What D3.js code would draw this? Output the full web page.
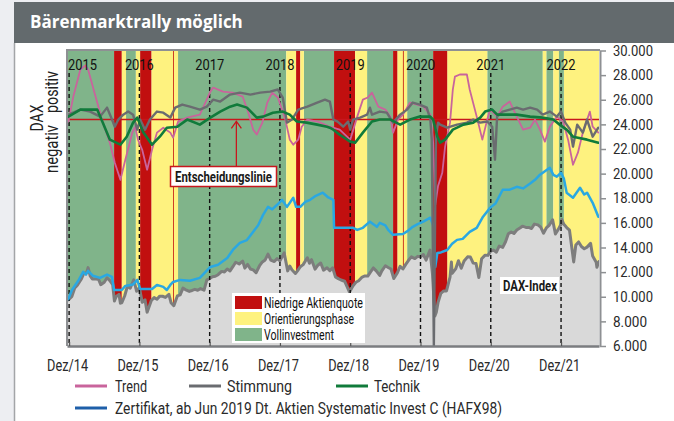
<!DOCTYPE html>
<html lang="de">
<head>
  <meta charset="UTF-8">
  <title>Bärenmarktrally möglich</title>
  <style>
    body {
      margin: 0;
      padding: 0;
      background-color: #edeef2;
    }
    svg { display: block; }
    text {
      font-family: Roboto, "Liberation Sans", sans-serif;
      fill: #1a1a1a;
    }
    .title {
      font-family: "Open Sans", "Liberation Sans", sans-serif;
      font-weight: 700;
      font-size: 17px;
      fill: #ffffff;
    }
    .axis text { fill: #2a2a2a; }
    .year-label { font-size: 14.5px; fill: #111; }
    .side-label { font-size: 18px; fill: #222; }
    .legend text { font-size: 17px; fill: #2a2a2a; }
    .box-legend text { font-size: 14px; fill: #111; }
    .line { fill: none; stroke-linejoin: round; stroke-linecap: round; }
  </style>
</head>
<body>
  <script src="https://d3js.org/d3.v7.min.js"></script>
  <script>
    // ---- data (time as decimal years) ----
    const years = [2015, 2016, 2017, 2018, 2019, 2020, 2021, 2022];
    const yearLabels = ["2015", "2016", "2017", "2018", "2019", "2020", "2021", "2022"];
    const tickLabels = ["Dez/14", "Dez/15", "Dez/16", "Dez/17", "Dez/18", "Dez/19", "Dez/20", "Dez/21"];
    const yTicks = [6000, 8000, 10000, 12000, 14000, 16000, 18000, 20000, 22000, 24000, 26000, 28000, 30000];
    const decisionLevel = 24400;

    // phases: r = Niedrige Aktienquote, y = Orientierungsphase, g = Vollinvestment
    const bandStart = [2014.97, 2015.64, 2015.75, 2015.81, 2015.95, 2016.01, 2016.17, 2016.48, 2016.55, 2018.09, 2018.23, 2018.29, 2018.34, 2018.77, 2019.07, 2019.24, 2019.61, 2019.67, 2019.75, 2019.81, 2020.18, 2020.38, 2020.95, 2021.74, 2021.79, 2021.89, 2021.97, 2022.04];
    const bandEnd   = [2015.64, 2015.75, 2015.81, 2015.95, 2016.01, 2016.17, 2016.55, 2016.49, 2018.09, 2018.23, 2018.29, 2018.34, 2018.77, 2019.07, 2019.24, 2019.61, 2019.67, 2019.81, 2019.76, 2020.18, 2020.38, 2020.95, 2021.74, 2021.79, 2021.89, 2021.97, 2022.04, 2022.54];
    const bandKind  = ["g", "r", "y", "g", "y", "r", "y", "r", "g", "y", "r", "y", "g", "r", "y", "g", "r", "y", "r", "g", "r", "y", "g", "y", "g", "y", "g", "y"];

    const daxT = [2014.97, 2015.00, 2015.04, 2015.08, 2015.12, 2015.17, 2015.21, 2015.25, 2015.27, 2015.30, 2015.33, 2015.37, 2015.42, 2015.45, 2015.50, 2015.54, 2015.58, 2015.62, 2015.645, 2015.67, 2015.71, 2015.73, 2015.75, 2015.79, 2015.83, 2015.87, 2015.92, 2015.96,
      2016.00, 2016.04, 2016.08, 2016.11, 2016.17, 2016.21, 2016.25, 2016.29, 2016.33, 2016.37, 2016.42, 2016.45, 2016.49, 2016.54, 2016.58, 2016.62, 2016.67, 2016.71, 2016.75, 2016.79, 2016.83, 2016.87, 2016.92, 2016.96,
      2017.00, 2017.04, 2017.08, 2017.12, 2017.17, 2017.21, 2017.25, 2017.29, 2017.33, 2017.37, 2017.42, 2017.47, 2017.50, 2017.54, 2017.58, 2017.62, 2017.66, 2017.71, 2017.75, 2017.79, 2017.83, 2017.87, 2017.92, 2017.96,
      2018.00, 2018.06, 2018.11, 2018.14, 2018.17, 2018.22, 2018.25, 2018.29, 2018.33, 2018.39, 2018.42, 2018.45, 2018.50, 2018.54, 2018.58, 2018.62, 2018.67, 2018.71, 2018.75, 2018.79, 2018.83, 2018.87, 2018.92, 2018.99,
      2019.04, 2019.08, 2019.12, 2019.17, 2019.21, 2019.25, 2019.29, 2019.33, 2019.37, 2019.42, 2019.45, 2019.50, 2019.54, 2019.58, 2019.62, 2019.67, 2019.71, 2019.75, 2019.79, 2019.83, 2019.87, 2019.92, 2019.96,
      2020.00, 2020.04, 2020.08, 2020.135, 2020.17, 2020.205, 2020.225, 2020.25, 2020.29, 2020.33, 2020.37, 2020.42, 2020.44, 2020.45, 2020.50, 2020.54, 2020.58, 2020.62, 2020.67, 2020.71, 2020.75, 2020.79, 2020.83, 2020.87, 2020.92, 2020.96,
      2021.00, 2021.04, 2021.08, 2021.12, 2021.17, 2021.21, 2021.25, 2021.29, 2021.33, 2021.37, 2021.42, 2021.45, 2021.50, 2021.54, 2021.58, 2021.62, 2021.67, 2021.71, 2021.75, 2021.79, 2021.83, 2021.88, 2021.92, 2021.96,
      2022.00, 2022.01, 2022.04, 2022.08, 2022.12, 2022.18, 2022.21, 2022.25, 2022.29, 2022.33, 2022.37, 2022.42, 2022.45, 2022.50, 2022.51, 2022.54];
    const daxV = [9700, 9800, 10030, 10700, 10960, 11400, 11900, 11970, 12370, 11700, 11450, 11450, 11400, 10980, 11180, 11540, 11300, 10980, 9650, 10020, 10190, 9480, 9510, 10060, 10850, 10700, 11380, 10450,
      10740, 9550, 9750, 8750, 9700, 9930, 9800, 10050, 10040, 9950, 10200, 9520, 9270, 10070, 10150, 10700, 10530, 10430, 10510, 10600, 10530, 10660, 10530, 11370,
      11480, 11630, 11660, 11790, 12060, 12010, 12250, 12100, 12440, 12800, 12660, 12890, 12320, 12630, 12250, 12180, 11950, 12520, 12830, 12990, 13460, 12980, 12860, 13100,
      12920, 13560, 12100, 12490, 12190, 11890, 12100, 12440, 12610, 13170, 12720, 13010, 12240, 12560, 12740, 12160, 12350, 12120, 12350, 11610, 11470, 11360, 11260, 10380,
      10890, 11180, 11300, 11600, 11690, 11680, 12020, 12340, 12100, 11730, 12100, 12520, 12380, 12250, 11480, 11940, 12470, 12260, 12630, 12960, 13240, 13100, 13280,
      13250, 13430, 12980, 13790, 11890, 8440, 8740, 9540, 10280, 10470, 10470, 11590, 12820, 11900, 12260, 12930, 12310, 12900, 13240, 13220, 12730, 12700, 11560, 13080, 13380, 13360,
      13720, 13790, 13620, 14110, 14010, 14470, 15110, 15250, 15140, 15420, 15600, 15730, 15630, 15630, 15540, 15900, 15840, 15650, 15160, 15590, 15800, 16250, 15100, 15470,
      15880, 16270, 15880, 15620, 15410, 12830, 14200, 14450, 14080, 13900, 14030, 14340, 13300, 12810, 12400, 12860];

    const zertT = [2014.99, 2015.04, 2015.13, 2015.20, 2015.24, 2015.27, 2015.34, 2015.44, 2015.54, 2015.61, 2015.64, 2015.75, 2015.80, 2015.91, 2015.97, 2016.01, 2016.18, 2016.25, 2016.34, 2016.39, 2016.44, 2016.48, 2016.58, 2016.72, 2016.86,
      2017.01, 2017.12, 2017.25, 2017.33, 2017.43, 2017.53, 2017.62, 2017.69, 2017.76, 2017.83, 2017.89, 2017.96, 2018.03, 2018.10, 2018.19, 2018.23, 2018.29, 2018.36, 2018.43, 2018.51, 2018.61, 2018.68, 2018.76, 2018.77,
      2019.04, 2019.10, 2019.18, 2019.28, 2019.38, 2019.42, 2019.50, 2019.54, 2019.61, 2019.75, 2019.82, 2019.89, 2019.96, 2020.04, 2020.14, 2020.18, 2020.21, 2020.24, 2020.29, 2020.38, 2020.45, 2020.52, 2020.60, 2020.70, 2020.80, 2020.89, 2020.99,
      2021.07, 2021.17, 2021.27, 2021.37, 2021.46, 2021.56, 2021.63, 2021.70, 2021.77, 2021.84, 2021.89, 2021.94, 2022.00, 2022.04, 2022.08, 2022.17, 2022.27, 2022.33, 2022.37, 2022.45, 2022.53];
    const zertV = [9820, 10550, 11300, 12020, 11800, 12100, 11700, 11530, 11800, 11610, 10550, 10550, 10880, 11000, 11370, 10630, 10630, 10960, 10800, 10550, 10960, 11200, 11370, 11300, 11530,
      12420, 12600, 13150, 13800, 14380, 14600, 15270, 15800, 16650, 17300, 17100, 17470, 17870, 17300, 18040, 17300, 17300, 17700, 17870, 18200, 18450, 18100, 17870, 15600,
      15600, 15430, 15600, 16100, 15680, 16000, 15800, 15430, 15030, 15100, 15350, 15680, 15900, 16100, 16420, 15800, 12420, 13560, 13600, 13800, 14300, 14620, 14700, 15270, 15600, 16500, 17220,
      17600, 18690, 18700, 18930, 18800, 19200, 19500, 19910, 20200, 20480, 19900, 19750, 20070, 19600, 18450, 18040, 18850, 18300, 18450, 17630, 16500];

    // indicator lines, drawn on the same vertical scale
    const trendT = [2014.99, 2015.06, 2015.16, 2015.23, 2015.27, 2015.40, 2015.48, 2015.58, 2015.65, 2015.73, 2015.80, 2015.90, 2015.94, 2015.98, 2016.04, 2016.11, 2016.18, 2016.25, 2016.34, 2016.44, 2016.48, 2016.55, 2016.68, 2016.86,
      2017.01, 2017.05, 2017.19, 2017.33, 2017.47, 2017.55, 2017.62, 2017.67, 2017.75, 2017.82, 2017.89, 2017.97, 2018.07, 2018.14, 2018.19, 2018.26, 2018.31, 2018.39, 2018.55, 2018.71, 2018.85,
      2019.00, 2019.10, 2019.18, 2019.25, 2019.31, 2019.40, 2019.50, 2019.57, 2019.61, 2019.68, 2019.75, 2019.85, 2019.95, 2020.04, 2020.14, 2020.18, 2020.21, 2020.25, 2020.31, 2020.35, 2020.42, 2020.46, 2020.49, 2020.56, 2020.66, 2020.70, 2020.80, 2020.88, 2020.95, 2020.99,
      2021.09, 2021.17, 2021.27, 2021.37, 2021.46, 2021.56, 2021.63, 2021.70, 2021.77, 2021.84, 2021.94, 2022.03, 2022.10, 2022.17, 2022.24, 2022.31, 2022.41, 2022.45, 2022.53];
    const trendV = [24220, 26260, 28450, 28780, 28450, 25770, 24140, 22510, 20890, 19500, 21130, 23330, 23800, 22760, 21940, 20320, 21940, 23330, 23730, 23330, 22920, 24220, 24550, 24790,
      26660, 26990, 26660, 26580, 26260, 24950, 23570, 23170, 24140, 25770, 26580, 26180, 24550, 22760, 22350, 22760, 23810, 24390, 24200, 23810, 23570,
      22760, 24630, 26010, 26180, 26580, 25440, 25200, 24630, 23330, 24390, 24790, 25770, 25610, 25440, 24790, 22510, 17470, 19000, 20070, 22190, 24140, 26830, 27880, 28050, 28050, 26830, 24630, 22760, 24390, 25200,
      24630, 25440, 25850, 24630, 23570, 23730, 24390, 23570, 22600, 23810, 24630, 24220, 22760, 20720, 21700, 23330, 25040, 23810, 23330];

    const stimT = [2014.99, 2015.16, 2015.30, 2015.44, 2015.54, 2015.61, 2015.65, 2015.70, 2015.77, 2015.84, 2015.91, 2015.97, 2016.01, 2016.08, 2016.15, 2016.25, 2016.34, 2016.44, 2016.51, 2016.61, 2016.72, 2016.86, 2016.96,
      2017.05, 2017.15, 2017.29, 2017.43, 2017.58, 2017.72, 2017.86, 2017.97, 2018.04, 2018.10, 2018.17, 2018.26, 2018.39, 2018.53, 2018.64, 2018.71, 2018.76, 2018.82, 2018.90, 2018.97,
      2019.00, 2019.04, 2019.14, 2019.24, 2019.28, 2019.31, 2019.42, 2019.52, 2019.61, 2019.71, 2019.81, 2019.89, 2019.99, 2020.09, 2020.14, 2020.16, 2020.19, 2020.22, 2020.25, 2020.28, 2020.38, 2020.52, 2020.66, 2020.75, 2020.85, 2020.95,
      2021.02, 2021.06, 2021.09, 2021.17, 2021.27, 2021.37, 2021.46, 2021.56, 2021.66, 2021.74, 2021.84, 2021.94, 2022.00, 2022.06, 2022.13, 2022.17, 2022.23, 2022.31, 2022.37, 2022.45, 2022.53];
    const stimV = [24790, 25200, 25040, 24630, 25360, 24390, 23810, 24390, 24790, 25040, 24790, 23570, 24390, 23570, 24390, 25040, 24950, 24550, 25360, 25610, 25440, 25200, 25440,
      26010, 25850, 26420, 26580, 26420, 26580, 26660, 26830, 26180, 24140, 24390, 25200, 25440, 25770, 26010, 25850, 24390, 24230, 23810, 24230,
      23570, 24390, 24550, 24790, 25360, 24790, 25040, 24950, 24140, 24790, 25200, 25770, 25610, 25360, 24390, 22760, 6000, 23000, 24140, 23980, 23730, 23980, 24140, 24390, 24140, 24230,
      23810, 21130, 24630, 25040, 25200, 25360, 25200, 25360, 25200, 24790, 25040, 24630, 25040, 24140, 23570, 22190, 23980, 23330, 24390, 23000, 23730];

    const techT = [2014.99, 2015.16, 2015.40, 2015.48, 2015.58, 2015.73, 2015.82, 2015.91, 2015.97, 2016.05, 2016.18, 2016.29, 2016.39, 2016.54, 2016.68, 2016.86,
      2017.01, 2017.15, 2017.29, 2017.39, 2017.53, 2017.67, 2017.76, 2017.90, 2018.04, 2018.14, 2018.24, 2018.38, 2018.53, 2018.67, 2018.71, 2018.76, 2018.85,
      2019.00, 2019.07, 2019.18, 2019.31, 2019.42, 2019.57, 2019.71, 2019.85, 2019.99, 2020.14, 2020.18, 2020.24, 2020.28, 2020.35, 2020.46, 2020.61, 2020.75, 2020.85, 2020.92,
      2021.02, 2021.09, 2021.23, 2021.37, 2021.56, 2021.74, 2021.89, 2021.98, 2022.08, 2022.17, 2022.24, 2022.37, 2022.53];
    const techV = [24630, 25200, 25200, 24140, 22760, 22350, 23000, 24140, 24550, 23410, 22350, 23000, 23730, 23810, 24390, 23980,
      24550, 25040, 25440, 25610, 25360, 24550, 24630, 24950, 25040, 24790, 24230, 24140, 23980, 23810, 23730, 23570, 23160,
      22600, 22510, 23330, 24230, 24390, 24390, 23980, 24390, 24630, 24630, 24390, 23000, 22510, 22760, 23570, 23980, 24140, 24550, 25040,
      25200, 24790, 24790, 24790, 24630, 24550, 24390, 23980, 23570, 23000, 22920, 22760, 22510];

    const phaseNames = ["Niedrige Aktienquote", "Orientierungsphase", "Vollinvestment"];
    const seriesNames = ["Trend", "Stimmung", "Technik", "Zertifikat, ab Jun 2019 Dt. Aktien Systematic Invest C (HAFX98)"];

    // ---- layout ----
    const W = 674, H = 421;
    const plot = { left: 67, right: 599, top: 50, bottom: 346 };
    const bandColor = { r: "#c10f0f", y: "#fef27f", g: "#80b48a" };
    const colors = { trend: "#c9649c", stim: "#6a6c70", tech: "#107b3b", zert: "#2aa8e2", zertLegend: "#1e5fa9", dax: "#7d7d7d", daxArea: "#d9d9d9", decision: "#c8161d" };

    // the reference uses a condensed face: squeeze glyphs to the measured widths
    function squeeze(sel, w) {
      sel.attr("textLength", w).attr("lengthAdjust", "spacingAndGlyphs");
    }

    const svg = d3.select("body").append("svg")
      .attr("width", W)
      .attr("height", H);

    // page frame
    svg.append("rect").attr("x", 0).attr("y", 0).attr("width", W).attr("height", H).attr("fill", "#edeef2");
    svg.append("rect").attr("x", 14).attr("y", 43).attr("width", W - 14).attr("height", H - 43).attr("fill", "#fff");
    svg.append("line").attr("x1", 14.5).attr("x2", 14.5).attr("y1", 43).attr("y2", H)
      .attr("stroke", "#a3a5a8").attr("stroke-width", 1.5);
    svg.append("rect").attr("x", 14).attr("y", 2).attr("width", W - 14).attr("height", 41).attr("fill", "#636a6d");
    svg.append("text").attr("class", "title").attr("x", 30).attr("y", 28).text("Bärenmarktrally möglich");

    // scales
    const x = d3.scaleLinear().domain([2014.97, 2022.54]).range([plot.left, plot.right]);
    const y = d3.scaleLinear().domain([6000, 30000]).range([plot.bottom, plot.top + 0.5]);

    svg.append("clipPath").attr("id", "clip")
      .append("rect")
      .attr("x", plot.left).attr("y", plot.top)
      .attr("width", plot.right - plot.left).attr("height", plot.bottom - plot.top);

    const g = svg.append("g").attr("clip-path", "url(#clip)");

    // phase bands
    const bands = bandStart.map((s, i) => ({ s: s, e: bandEnd[i], k: bandKind[i] }));
    // wide ones first, thin red strips on top
    bands.sort((a, b) => (b.e - b.s) - (a.e - a.s));
    g.selectAll("rect.band")
      .data(bands)
      .join("rect")
      .attr("class", "band")
      .attr("x", d => x(d.s))
      .attr("y", plot.top)
      .attr("width", d => Math.max(0.8, x(d.e) - x(d.s)))
      .attr("height", plot.bottom - plot.top)
      .attr("fill", d => bandColor[d.k]);

    // DAX area + line
    const dax = daxT.map((t, i) => ({ t: t, v: daxV[i] }));
    g.append("path")
      .datum(dax)
      .attr("fill", colors.daxArea)
      .attr("d", d3.area().x(d => x(d.t)).y0(y(6000)).y1(d => y(d.v)));
    g.append("path")
      .datum(dax)
      .attr("class", "line")
      .attr("stroke", colors.dax)
      .attr("stroke-width", 3)
      .attr("d", d3.line().x(d => x(d.t)).y(d => y(d.v)));

    // dashed year lines
    g.selectAll("line.year")
      .data(years)
      .join("line")
      .attr("class", "year")
      .attr("x1", d => x(d)).attr("x2", d => x(d))
      .attr("y1", 73).attr("y2", plot.bottom)
      .attr("stroke", "#111")
      .attr("stroke-width", 1.4)
      .attr("stroke-dasharray", "4,3");

    const line = d3.line().x(d => d.x).y(d => d.y);
    function drawSeries(ts, vs, color, width) {
      g.append("path")
        .datum(ts.map((t, i) => ({ x: x(t), y: y(vs[i]) })))
        .attr("class", "line")
        .attr("stroke", color)
        .attr("stroke-width", width)
        .attr("d", line);
    }

    drawSeries(zertT, zertV, colors.zert, 2.5);

    // decision line
    g.append("line")
      .attr("x1", plot.left).attr("x2", plot.right)
      .attr("y1", y(decisionLevel)).attr("y2", y(decisionLevel))
      .attr("stroke", colors.decision).attr("stroke-width", 1.5);

    drawSeries(trendT, trendV, colors.trend, 1.8);
    drawSeries(stimT, stimV, colors.stim, 2.4);
    drawSeries(techT, techV, colors.tech, 2.6);

    // year labels at top
    svg.selectAll("text.year-label")
      .data(years)
      .join("text")
      .attr("class", "year-label")
      .attr("x", (d, i) => i === 0 ? x(d) - 1 : x(d))
      .attr("y", 70)
      .attr("text-anchor", (d, i) => i === 0 ? "start" : "middle")
      .text((d, i) => yearLabels[i])
      .call(squeeze, 29);

    // plot frame (top / left)
    svg.append("path")
      .attr("d", `M${plot.left},${plot.bottom} V${plot.top} H${plot.right + 1}`)
      .attr("fill", "none")
      .attr("stroke", "#8e9093")
      .attr("stroke-width", 2);

    // right axis
    const nf = d3.formatLocale({ decimal: ",", thousands: ".", grouping: [3], currency: ["", "€"] }).format(",.0f");
    const yAxis = svg.append("g")
      .attr("class", "axis")
      .attr("transform", `translate(${plot.right + 1},0)`)
      .call(d3.axisRight(y).tickValues(yTicks).tickSize(6).tickSizeOuter(0).tickPadding(7).tickFormat(nf));
    yAxis.select(".domain").attr("stroke", "#8e9093").attr("stroke-width", 2);
    yAxis.selectAll(".tick line").attr("stroke", "#8e9093").attr("stroke-width", 1.5);
    yAxis.selectAll(".tick text")
      .attr("font-size", 14.5)
      .attr("textLength", d => d >= 10000 ? 40 : 34)
      .attr("lengthAdjust", "spacingAndGlyphs");

    // bottom axis
    const xAxis = svg.append("g")
      .attr("class", "axis")
      .attr("transform", `translate(0,${plot.bottom})`)
      .call(d3.axisBottom(x).tickValues(years).tickSize(-4).tickSizeOuter(0).tickPadding(14)
        .tickFormat((d, i) => tickLabels[i]));
    xAxis.select(".domain").attr("stroke", "#7b7d80").attr("stroke-width", 2.5);
    xAxis.selectAll(".tick line").attr("stroke", "#555").attr("stroke-width", 1.2);
    xAxis.selectAll(".tick text")
      .attr("dx", -2)
      .attr("font-size", 16)
      .call(squeeze, 41);

    // Entscheidungslinie annotation
    const arrowX = x(2017.38);
    const ann = svg.append("g");
    ann.append("line")
      .attr("x1", arrowX).attr("x2", arrowX)
      .attr("y1", 166).attr("y2", y(decisionLevel) + 2)
      .attr("stroke", colors.decision).attr("stroke-width", 1.3);
    ann.append("path")
      .attr("d", `M${arrowX - 5},${y(decisionLevel) + 9} L${arrowX},${y(decisionLevel) + 2} L${arrowX + 5},${y(decisionLevel) + 9}`)
      .attr("fill", "none").attr("stroke", colors.decision).attr("stroke-width", 1.3);
    ann.append("rect")
      .attr("x", 170.5).attr("y", 166.5).attr("width", 106).attr("height", 20)
      .attr("fill", "#fff").attr("stroke", colors.decision).attr("stroke-width", 1.5);
    ann.append("text")
      .attr("x", 175).attr("y", 182)
      .attr("font-size", 15).attr("font-weight", 700)
      .text("Entscheidungslinie")
      .call(squeeze, 97);

    // DAX-Index label
    svg.append("rect").attr("x", 500).attr("y", 277).attr("width", 59).attr("height", 17).attr("fill", "#fff");
    svg.append("text")
      .attr("x", 503).attr("y", 290.5)
      .attr("font-size", 15).attr("font-weight", 700)
      .text("DAX-Index")
      .call(squeeze, 54);

    // phase legend box
    const box = svg.append("g").attr("class", "box-legend");
    box.append("rect").attr("x", 232).attr("y", 293).attr("width", 133).attr("height", 50).attr("fill", "#fff");
    const phaseKeys = ["r", "y", "g"];
    const phaseLen = [99, 90, 70];
    phaseNames.forEach((name, i) => {
      box.append("rect")
        .attr("x", 235).attr("y", 296 + i * 16)
        .attr("width", 27).attr("height", 13)
        .attr("fill", bandColor[phaseKeys[i]]);
      box.append("text")
        .attr("x", 264).attr("y", 307.5 + i * 16)
        .text(name)
        .call(squeeze, phaseLen[i]);
    });

    // left side labels
    svg.append("text").attr("class", "side-label")
      .attr("transform", "translate(43,118) rotate(-90)")
      .attr("text-anchor", "middle")
      .text("DAX")
      .call(squeeze, 27);
    svg.append("text").attr("class", "side-label")
      .attr("transform", "translate(58,113) rotate(-90)")
      .attr("text-anchor", "start")
      .text("positiv")
      .call(squeeze, 42);
    svg.append("text").attr("class", "side-label")
      .attr("transform", "translate(58,125) rotate(-90)")
      .attr("text-anchor", "end")
      .text("negativ")
      .call(squeeze, 48);

    // series legend
    const legend = svg.append("g").attr("class", "legend");
    const legendItems = [
      { name: seriesNames[0], color: colors.trend, x: 75, tx: 115, w: 32, y: 386 },
      { name: seriesNames[1], color: colors.stim, x: 189, tx: 227, w: 65, y: 386 },
      { name: seriesNames[2], color: colors.tech, x: 336, tx: 374, w: 46, y: 386 },
      { name: seriesNames[3], color: colors.zertLegend, x: 75, tx: 115, w: 387, y: 408 }
    ];
    legendItems.forEach(d => {
      legend.append("line")
        .attr("x1", d.x).attr("x2", d.x + 32)
        .attr("y1", d.y).attr("y2", d.y)
        .attr("stroke", d.color).attr("stroke-width", 3);
      legend.append("text")
        .attr("x", d.tx).attr("y", d.y + 6)
        .text(d.name)
        .call(squeeze, d.w);
    });
  </script>
</body>
</html>
